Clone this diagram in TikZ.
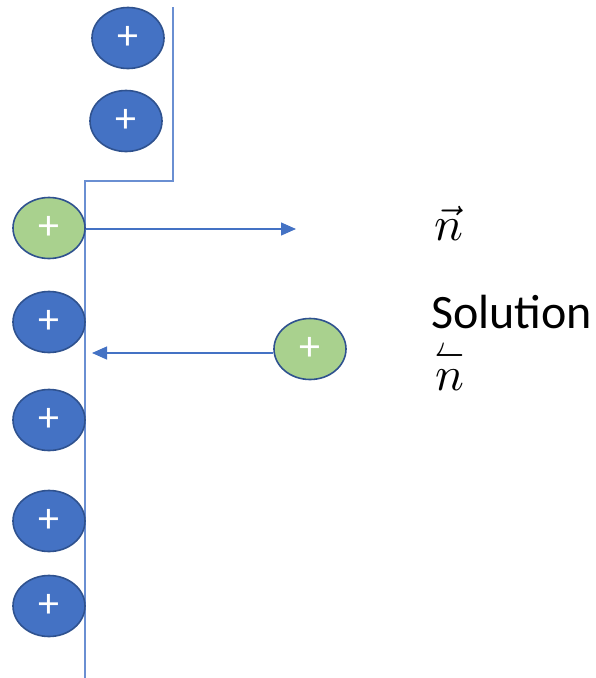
\documentclass[tikz,border=0pt]{standalone}
\usepackage{fontspec}
\usepackage{amsmath}
\usepackage{graphicx}
\setmainfont{Carlito}
\usetikzlibrary{shapes.geometric,arrows.meta}
\definecolor{ionblue}{HTML}{4472C4}
\definecolor{iongreen}{HTML}{A9D18E}
\definecolor{rimblue}{HTML}{2F528F}
\definecolor{wallblue}{HTML}{6A8FD2}
\tikzset{
  ion/.style={ellipse, draw=rimblue, line width=1.6pt, minimum width=72pt,
    minimum height=61pt, inner sep=0pt, text=white,
    font=\fontsize{42}{42}\selectfont},
  bulkion/.style={ion, fill=ionblue},
  freeion/.style={ion, fill=iongreen},
  wall/.style={draw=wallblue, line width=1.6pt},
  flux/.style={draw=ionblue, line width=1.3pt, -{Triangle[length=15pt,width=13pt]}},
  lbl/.style={inner sep=0pt, anchor=base west}
}
% n with a left harpoon set close above it
\newcommand{\harpn}{\rlap{\raisebox{4.6pt}{\scalebox{0.6}[1]{$\leftharpoonup$}}}$n$}
\begin{document}
\begin{tikzpicture}[x=1pt,y=-1pt]
\useasboundingbox (0,0) rectangle (595,678);
% electrode surface with its step
\coordinate (wtop) at (173,7);
\coordinate (wcorner) at (173,181);
\coordinate (wstep) at (85,181);
\coordinate (wbot) at (85,678);
\draw[wall] (wtop) -- (wcorner) -- (wstep) -- (wbot);
% adsorbed ions
\node[bulkion] (a1) at (128,38) {+};
\node[bulkion] (a2) at (126,121) {+};
\node[freeion] (g1) at (49,228) {+};
\node[bulkion] (b1) at (49,322) {+};
\node[bulkion] (b2) at (49,420) {+};
\node[bulkion] (b3) at (49,521) {+};
\node[bulkion] (b4) at (49,606) {+};
% ion in solution
\node[freeion] (g2) at (310,349) {+};
% fluxes
\coordinate (outtip) at (296,229);
\coordinate (intip) at (92,353);
\draw[flux] (g1.east |- outtip) -- (outtip);
\draw[flux] (g2.west |- intip) -- (intip);
% labels
\node[lbl] (nout) at (434,240) {\scalebox{4.8}{$\vec{n}$}};
\node[lbl, font=\fontsize{48}{48}\selectfont] (sol) at (431,328) {Solution};
\node[lbl] (nin) at (435,390) {\scalebox{4.8}{\harpn}};
\end{tikzpicture}
\end{document}
